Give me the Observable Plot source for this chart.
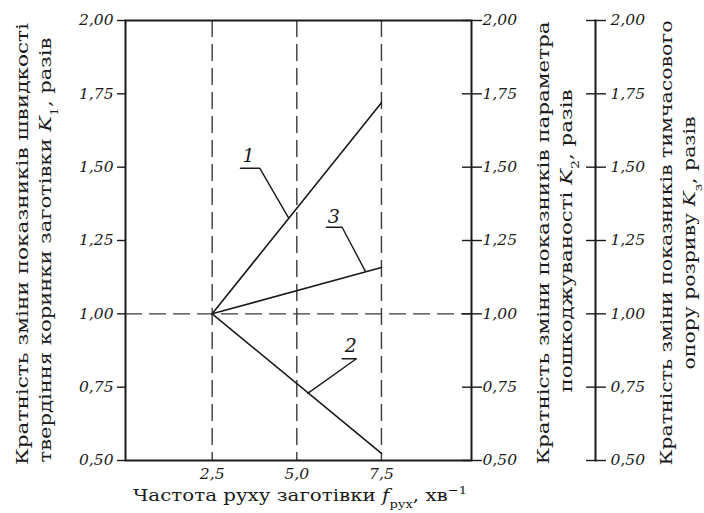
<!DOCTYPE html>
<html><head><meta charset="utf-8">
<script src="https://cdn.jsdelivr.net/npm/d3@7"></script>
<script src="https://cdn.jsdelivr.net/npm/@observablehq/plot@0.6"></script>
<style>
body{margin:0;background:#fff}
#wrap{position:relative;width:704px;height:513px;}
#wrap svg{position:absolute;top:0;overflow:visible}
</style></head><body><div id="wrap"></div>
<script>
// ---- data ----
const frequency = [2.5, 7.5];           // f_рух, хв^-1
const k1 = [1.0, 1.72];                 // curve 1
const k2 = [1.0, 0.524];                // curve 2
const k3 = [1.0, 1.158];                // curve 3
const curveNames = ["1", "2", "3"];
const yTicks = [0.5, 0.75, 1.0, 1.25, 1.5, 1.75, 2.0];
const xTicks = [2.5, 5.0, 7.5];
const xTickLabels = ["2,5", "5,0", "7,5"];
const refX = [2.5, 5.0, 7.5];
const refY = [1.0];
// curve label annotations
const labelX = [3.571, 6.598, 6.09];
const labelY = [1.540, 0.892, 1.332];
const leader1X = [3.334, 3.904, 4.761], leader1Y = [1.4965, 1.4965, 1.326];
const leader2X = [6.338, 6.760, 5.322], leader2Y = [0.8467, 0.8467, 0.729];
const leader3X = [5.874, 6.338, 7.026], leader3Y = [1.2953, 1.2953, 1.145];

const series = [];
[k1, k2, k3].forEach((arr, i) => arr.forEach((v, j) => series.push({f: frequency[j], k: v, s: curveNames[i]})));
const leaders = [];
[[leader1X, leader1Y], [leader2X, leader2Y], [leader3X, leader3Y]].forEach(([lx, ly], i) =>
  lx.forEach((v, j) => leaders.push({x: v, y: ly[j], s: curveNames[i]})));
const labels = curveNames.map((n, i) => ({x: labelX[i], y: labelY[i], t: n}));

const fmt = d => d.toFixed(2).replace(".", ",");
const serif = "'DejaVu Serif', serif";
const ink = "#1a1a1a";
const dash = {stroke: "#3a3a3a", strokeWidth: 1.4, strokeDasharray: "17,7"};
const tickText = {fontStyle: "italic", fontSize: 15.5, label: null};

const main = Plot.plot({
  width: 580, height: 513,
  marginLeft: 125, marginRight: 109, marginTop: 20, marginBottom: 53,
  x: {domain: [-0.06, 10.16], label: null},
  y: {domain: [0.5, 2.0], label: null},
  style: {fontFamily: serif, fontSize: "15.5px", color: ink, background: "transparent"},
  marks: [
    Plot.ruleX(refX, dash),
    Plot.ruleY(refY, dash),
    Plot.line(series, {x: "f", y: "k", z: "s", stroke: ink, strokeWidth: 1.6}),
    Plot.line(leaders, {x: "x", y: "y", z: "s", stroke: ink, strokeWidth: 1.4}),
    Plot.text(labels, {x: "x", y: "y", text: "t", fontSize: 19, fontStyle: "italic", fill: ink}),
    Plot.frame({stroke: ink, strokeWidth: 2}),
    Plot.axisY({anchor: "left", ticks: yTicks, tickSize: 9, dx: 1, fill: "none", label: null, strokeWidth: 1.4}),
    Plot.axisY({anchor: "left", ticks: yTicks, tickSize: 0, tickPadding: 12, tickFormat: fmt, ...tickText}),
    Plot.axisY({anchor: "right", ticks: yTicks, tickSize: 20, dx: -10, fill: "none", label: null, strokeWidth: 1.4}),
    Plot.axisY({anchor: "right", ticks: yTicks, tickSize: 0, tickPadding: 11, tickFormat: fmt, ...tickText}),
    Plot.axisX({ticks: xTicks, tickSize: 0, tickPadding: 7, tickFormat: d => xTickLabels[xTicks.indexOf(d)], ...tickText})
  ]
});

const side = Plot.plot({
  width: 124, height: 513,
  marginLeft: 5, marginRight: 109, marginTop: 20, marginBottom: 53,
  y: {domain: [0.5, 2.0], label: null},
  style: {fontFamily: serif, fontSize: "15.5px", color: ink, background: "transparent"},
  marks: [
    Plot.frame({anchor: "right", stroke: ink, strokeWidth: 2}),
    Plot.axisY({anchor: "right", ticks: yTicks, tickSize: 20, dx: -10, fill: "none", label: null, strokeWidth: 1.4}),
    Plot.axisY({anchor: "right", ticks: yTicks, tickSize: 0, tickPadding: 15, tickFormat: fmt, ...tickText})
  ]
});

const wrap = document.getElementById("wrap");
main.style.left = "0px";
side.style.left = "580px";
wrap.appendChild(main);
wrap.appendChild(side);

// ---- titles (real text with sub/superscripts) ----
function addText(svg, x, y, rotate, len, parts) {
  const t = d3.select(svg).append("text")
    .attr("transform", `translate(${x},${y})` + (rotate ? " rotate(-90)" : ""))
    .attr("text-anchor", "middle")
    .attr("font-family", serif)
    .attr("font-size", 17.5)
    .attr("fill", ink)
    .attr("textLength", len)
    .attr("lengthAdjust", "spacingAndGlyphs");
  parts.forEach(p => {
    const s = t.append("tspan").text(p.t);
    if (p.i) s.attr("font-style", "italic");
    if (p.sub) s.attr("baseline-shift", "sub").attr("font-size", 11.5);
    if (p.sup) s.attr("baseline-shift", "super").attr("font-size", 11.5);
  });
}
const N = t => ({t});
addText(main, 28, 244, true, 442, [N("Кратність зміни показників швидкості")]);
addText(main, 51, 250, true, 425, [N("твердіння коринки заготівки "), {t: "K", i: true}, {t: "1", sub: true}, N(", разів")]);
addText(main, 549, 243, true, 443, [N("Кратність зміни показників параметра")]);
addText(main, 572, 241, true, 303, [N("пошкоджуваності "), {t: "K", i: true}, {t: "2", sub: true}, N(", разів")]);
addText(side, 92, 243, true, 445, [N("Кратність зміни показників тимчасового")]);
addText(side, 115, 243, true, 253, [N("опору розриву "), {t: "K", i: true}, {t: "з", sub: true}, N(", разів")]);
addText(main, 300, 501, false, 334, [N("Частота руху заготівки "), {t: "f", i: true}, {t: "рух", sub: true}, N(", хв"), {t: "−1", sup: true}]);
</script></body></html>
